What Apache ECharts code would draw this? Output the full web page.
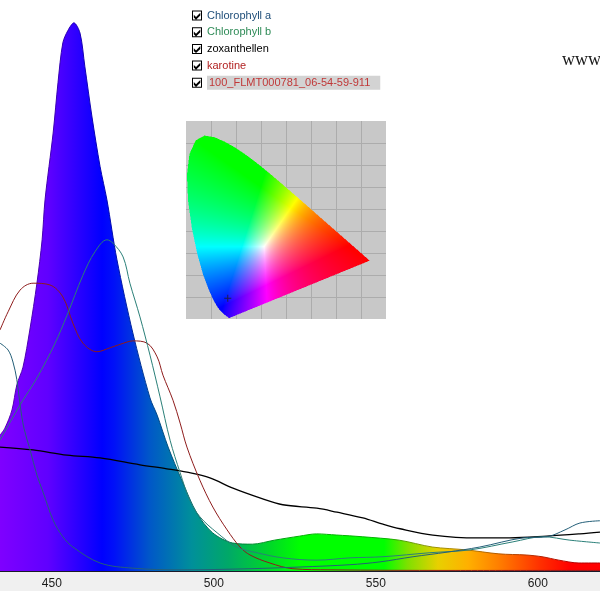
<!DOCTYPE html>
<html><head><meta charset="utf-8">
<script src="https://cdn.jsdelivr.net/npm/echarts@6/dist/echarts.min.js"></script>
<style>html,body{margin:0;padding:0;background:#f0f0f0}#c{width:600px;height:591px}</style>
</head><body><div id="c"></div>
<script>
// ---------- data ----------
const xTicks = [450, 500, 550, 600];

const spectrumName = '100_FLMT000781_06-54-59-911';
const spectrumWl  = [434.0, 435.5, 437.7, 439.2, 441.1, 443.2, 445.4, 447.0, 447.9, 450.4, 451.9, 453.4, 455.0, 456.8, 458.7, 460.2, 462.4, 464.9, 467.0, 470.1, 475.0, 480.3, 482.5, 485.9, 490.1, 494.7, 499.6, 505.8, 511.9, 518.7, 526.4, 531.7, 537.8, 545.8, 557.2, 567.4, 577.9, 588.0, 596.4, 601.3, 606.5, 612.7, 619.2];
const spectrumVal = [23.8, 25.0, 28.2, 32.6, 35.7, 42.2, 50.4, 58.0, 65.0, 76.7, 85.5, 92.5, 94.7, 96.0, 94.2, 88.3, 79.5, 70.8, 65.0, 54.5, 41.7, 30.3, 27.3, 21.7, 15.9, 10.2, 6.7, 4.9, 4.7, 5.4, 6.1, 6.5, 6.3, 6.0, 5.4, 4.2, 3.7, 3.0, 2.8, 2.5, 1.9, 1.4, 1.4];

const chlaWl  = [434.0, 436.5, 438.0, 439.2, 440.2, 441.4, 443.3, 445.4, 447.3, 450.4, 453.4, 456.5, 464.9, 475.0, 489.6, 511.2, 526.6, 542.0, 551.3, 561.5, 572.0, 582.1, 595.4, 602.8, 608.4, 613.0, 619.2];
const chlaVal = [39.9, 38.7, 36.6, 33.5, 29.1, 25.0, 21.2, 16.8, 13.8, 8.9, 6.0, 4.2, 1.4, 0.5, 0.2, 0.4, 0.7, 1.1, 1.6, 2.5, 3.3, 4.2, 5.8, 6.0, 7.2, 8.4, 8.8];

const chlbWl  = [434.0, 440.2, 445.4, 451.0, 454.7, 459.6, 463.3, 467.0, 468.9, 472.0, 474.1, 477.2, 480.3, 483.4, 486.5, 489.6, 492.6, 495.7, 501.0, 507.1, 513.3, 521.3, 531.8, 542.0, 552.2, 566.7, 579.1, 592.3, 601.6, 609.9, 619.2];
const chlbVal = [22.9, 29.1, 33.8, 39.9, 44.8, 51.8, 55.9, 58.0, 57.4, 55.0, 50.4, 44.5, 37.8, 30.5, 22.9, 17.2, 12.4, 9.5, 6.7, 4.2, 3.2, 2.3, 1.9, 2.3, 2.5, 3.2, 3.7, 5.1, 6.0, 5.4, 4.9];

const zoxWl  = [434.0, 444.2, 454.7, 464.9, 477.2, 485.5, 491.7, 498.8, 505.9, 514.2, 521.3, 531.8, 538.0, 546.0, 552.2, 557.5, 567.6, 581.2, 591.4, 602.8, 613.0, 619.2];
const zoxVal = [21.7, 21.2, 20.3, 19.8, 18.6, 17.9, 17.3, 16.3, 14.5, 12.8, 11.6, 11.0, 10.3, 9.3, 8.2, 7.4, 6.3, 5.8, 5.8, 6.1, 6.5, 6.8];

const karWl  = [434.0, 436.5, 440.2, 444.2, 449.4, 453.4, 456.5, 459.6, 463.9, 468.0, 473.2, 475.0, 479.4, 482.5, 484.3, 487.4, 489.6, 491.7, 495.7, 499.7, 504.1, 508.1, 511.2, 517.3, 524.4, 535.9, 572.9, 619.2];
const karVal = [42.2, 45.4, 49.2, 50.4, 50.1, 48.0, 43.4, 39.9, 38.4, 39.1, 40.1, 40.3, 39.9, 37.5, 34.3, 29.9, 25.9, 21.7, 15.9, 11.2, 7.2, 4.2, 2.8, 1.4, 0.4, 0.2, 0.1, 0.1];

// CIE 1931 spectral locus (x, y), 380..700 nm
const locusX = [0.1741,0.1740,0.1738,0.1736,0.1733,0.1730,0.1726,0.1721,0.1714,0.1703,0.1689,0.1669,0.1644,0.1611,0.1566,0.1510,0.1440,0.1355,0.1241,0.1096,0.0913,0.0687,0.0454,0.0235,0.0082,0.0039,0.0139,0.0389,0.0743,0.1142,0.1547,0.1929,0.2296,0.2658,0.3016,0.3373,0.3731,0.4087,0.4441,0.4788,0.5125,0.5448,0.5752,0.6029,0.6270,0.6482,0.6658,0.6801,0.6915,0.7006,0.7079,0.7140,0.7190,0.7230,0.7260,0.7300,0.7320,0.7334,0.7347];
const locusY = [0.0050,0.0050,0.0049,0.0049,0.0048,0.0048,0.0048,0.0048,0.0051,0.0058,0.0069,0.0086,0.0109,0.0138,0.0177,0.0227,0.0297,0.0399,0.0578,0.0868,0.1327,0.2007,0.2950,0.4127,0.5384,0.6548,0.7502,0.8120,0.8338,0.8262,0.8059,0.7816,0.7543,0.7243,0.6923,0.6589,0.6245,0.5896,0.5547,0.5202,0.4866,0.4544,0.4242,0.3965,0.3725,0.3514,0.3340,0.3197,0.3083,0.2993,0.2920,0.2859,0.2809,0.2770,0.2740,0.2700,0.2680,0.2666,0.2653];
const measuredPoint = [0.167, 0.094];

// ---------- helpers ----------
const pairs = (xs, ys) => xs.map((x, i) => [x, ys[i]]);
const rainbowStops = [
  [0.00, '#7f00ff'], [0.08, '#6000ff'], [0.17, '#0000ff'], [0.19, '#0010f8'],
  [0.25, '#0058c8'], [0.32, '#00909a'], [0.38, '#00a868'], [0.45, '#00d828'],
  [0.50, '#00ff00'], [0.64, '#00ff00'], [0.68, '#80e000'], [0.73, '#e8d000'],
  [0.78, '#ffb000'], [0.83, '#ff8000'], [0.90, '#ff3000'], [0.95, '#ff0000'], [1.00, '#ff0000']
];
function darken(hex, f) {
  const n = parseInt(hex.slice(1), 16);
  const r = Math.round(((n >> 16) & 255) * f), g = Math.round(((n >> 8) & 255) * f), b = Math.round((n & 255) * f);
  return 'rgb(' + r + ',' + g + ',' + b + ')';
}
function grad(f) {
  return { type: 'linear', x: 0, y: 0, x2: 600, y2: 0, global: true,
    colorStops: rainbowStops.map(s => ({ offset: s[0], color: f ? darken(s[1], f) : s[1] })) };
}
const checkIcon = 'path://M0 0H10V10H0Z M1 1V9H9V1Z M1.8 4.3L4 6.5L8.3 2.2V5L4 9.2L1.8 7Z';

function renderCIE(params, api) {
  const ext = [api.coord([0, 0]), api.coord([0.8, 0.9])];
  const left = Math.round(ext[0][0]), top = Math.round(ext[1][1]);
  const W = Math.round(ext[1][0]) - left, H = Math.round(ext[0][1]) - top;
  const cv = document.createElement('canvas');
  cv.width = W; cv.height = H;
  const ctx = cv.getContext('2d');
  ctx.beginPath();
  locusX.forEach((x, i) => {
    const p = api.coord([x, locusY[i]]);
    if (i === 0) ctx.moveTo(p[0] - left, p[1] - top); else ctx.lineTo(p[0] - left, p[1] - top);
  });
  ctx.closePath();
  const img = ctx.createImageData(W, H);
  const d = img.data;
  const sub = [0.25, 0.75];
  for (let py = 0; py < H; py++) {
    for (let px = 0; px < W; px++) {
      let cov = 0;
      for (const a of sub) for (const b of sub) if (ctx.isPointInPath(px + a, py + b)) cov++;
      if (!cov) continue;
      const cx = (px + 0.5) / W * 0.8;
      const cy = Math.max(0.003, 0.9 - (py + 0.5) / H * 0.9);
      const X = cx / cy, Y = 1, Z = (1 - cx - cy) / cy;
      let r = 3.2406 * X - 1.5372 * Y - 0.4986 * Z;
      let g = -0.9689 * X + 1.8758 * Y + 0.0415 * Z;
      let bl = 0.0557 * X - 0.2040 * Y + 1.0570 * Z;
      r = Math.max(0, r); g = Math.max(0, g); bl = Math.max(0, bl);
      const m = Math.max(r, g, bl) || 1;
      const k = (py * W + px) * 4;
      d[k] = Math.round(Math.pow(r / m, 0.8) * 255);
      d[k + 1] = Math.round(Math.pow(g / m, 0.8) * 255);
      d[k + 2] = Math.round(Math.pow(bl / m, 0.8) * 255);
      d[k + 3] = Math.round(cov / 4 * 255);
    }
  }
  ctx.putImageData(img, 0, 0);
  return { type: 'image', style: { image: cv, x: left, y: top, width: W, height: H } };
}

// ---------- chart ----------
const chart = echarts.init(document.getElementById('c'), null, { renderer: 'canvas' });
const lineBase = { type: 'line', showSymbol: false, smooth: 0.35, silent: true, z: 3 };

chart.setOption({
  animation: false,
  backgroundColor: '#f0f0f0',
  textStyle: { fontFamily: 'Liberation Sans' },
  grid: [
    { left: 0, right: 0, top: 0, bottom: 20, show: true, backgroundColor: '#ffffff', borderWidth: 0 },
    { left: 186, top: 121, width: 200, height: 198, show: true, backgroundColor: '#c8c8c8', borderWidth: 0 }
  ],
  xAxis: [
    { type: 'value', min: 434, max: 619.2, gridIndex: 0,
      axisLine: { lineStyle: { color: '#1a1a2a', width: 1 } },
      axisTick: { inside: true, length: 5, customValues: xTicks, lineStyle: { color: '#333' } },
      axisLabel: { customValues: xTicks, color: '#1a1a1a', fontSize: 12, margin: 7, fontFamily: 'Liberation Sans' },
      splitLine: { show: false } },
    { type: 'value', min: 0, max: 0.8, interval: 0.1, gridIndex: 1,
      axisLine: { show: false }, axisTick: { show: false }, axisLabel: { show: false },
      splitLine: { show: true, showMinLine: false, showMaxLine: false, lineStyle: { color: '#acacac', width: 1 } } }
  ],
  yAxis: [
    { type: 'value', min: 0, max: 100, gridIndex: 0, show: false, splitLine: { show: false } },
    { type: 'value', min: 0, max: 0.9, interval: 0.1, gridIndex: 1,
      axisLine: { show: false }, axisTick: { show: false }, axisLabel: { show: false },
      splitLine: { show: true, showMinLine: false, showMaxLine: false, lineStyle: { color: '#acacac', width: 1 } } }
  ],
  legend: {
    orient: 'vertical', left: 192, top: 9, padding: 0, itemGap: 3.7,
    itemWidth: 10, itemHeight: 10, icon: checkIcon,
    itemStyle: { color: '#000', borderWidth: 0 },
    textStyle: { fontSize: 11, fontFamily: 'Liberation Sans', lineHeight: 13 },
    selectedMode: false,
    data: [
      { name: 'Chlorophyll a', textStyle: { color: '#1f4e79' } },
      { name: 'Chlorophyll b', textStyle: { color: '#2e8b57' } },
      { name: 'zoxanthellen', textStyle: { color: '#000000' } },
      { name: 'karotine', textStyle: { color: '#b22222' } },
      { name: spectrumName, textStyle: { color: '#c03838', backgroundColor: '#d3d3d3', padding: [0, 10, 1, 2] } }
    ]
  },
  graphic: [
    { type: 'text', left: 562, top: 51, silent: true,
      style: { text: 'www.', fontFamily: 'Liberation Serif', fontSize: 18, fill: '#1a1a1a' } }
  ],
  series: [
    { type: 'line', name: spectrumName, data: pairs(spectrumWl, spectrumVal), showSymbol: false, smooth: 0.3, silent: true, z: 2,
      lineStyle: { width: 1, color: grad(0.7) }, areaStyle: { color: grad(0), opacity: 1 } },
    Object.assign({}, lineBase, { name: 'zoxanthellen', data: pairs(zoxWl, zoxVal), lineStyle: { width: 1.3, color: '#000000' }, itemStyle: { color: '#000' } }),
    Object.assign({}, lineBase, { name: 'karotine', data: pairs(karWl, karVal), lineStyle: { width: 1, color: '#8e1c1c' }, itemStyle: { color: '#8e1c1c' } }),
    Object.assign({}, lineBase, { name: 'Chlorophyll b', data: pairs(chlbWl, chlbVal), lineStyle: { width: 1, color: '#2a7f78' }, itemStyle: { color: '#2a7f78' } }),
    Object.assign({}, lineBase, { name: 'Chlorophyll a', data: pairs(chlaWl, chlaVal), lineStyle: { width: 1, color: '#245f78' }, itemStyle: { color: '#245f78' } }),
    { type: 'custom', name: 'cie', xAxisIndex: 1, yAxisIndex: 1, data: [[0, 0]], silent: true, clip: false, z: 2, renderItem: renderCIE },
    { type: 'scatter', name: 'point', xAxisIndex: 1, yAxisIndex: 1, data: [measuredPoint], silent: true, z: 5,
      symbol: 'path://M3 0H4V7H3Z M0 3H7V4H0Z', symbolSize: 7, itemStyle: { color: '#202020' } }
  ]
});
</script></body></html>
